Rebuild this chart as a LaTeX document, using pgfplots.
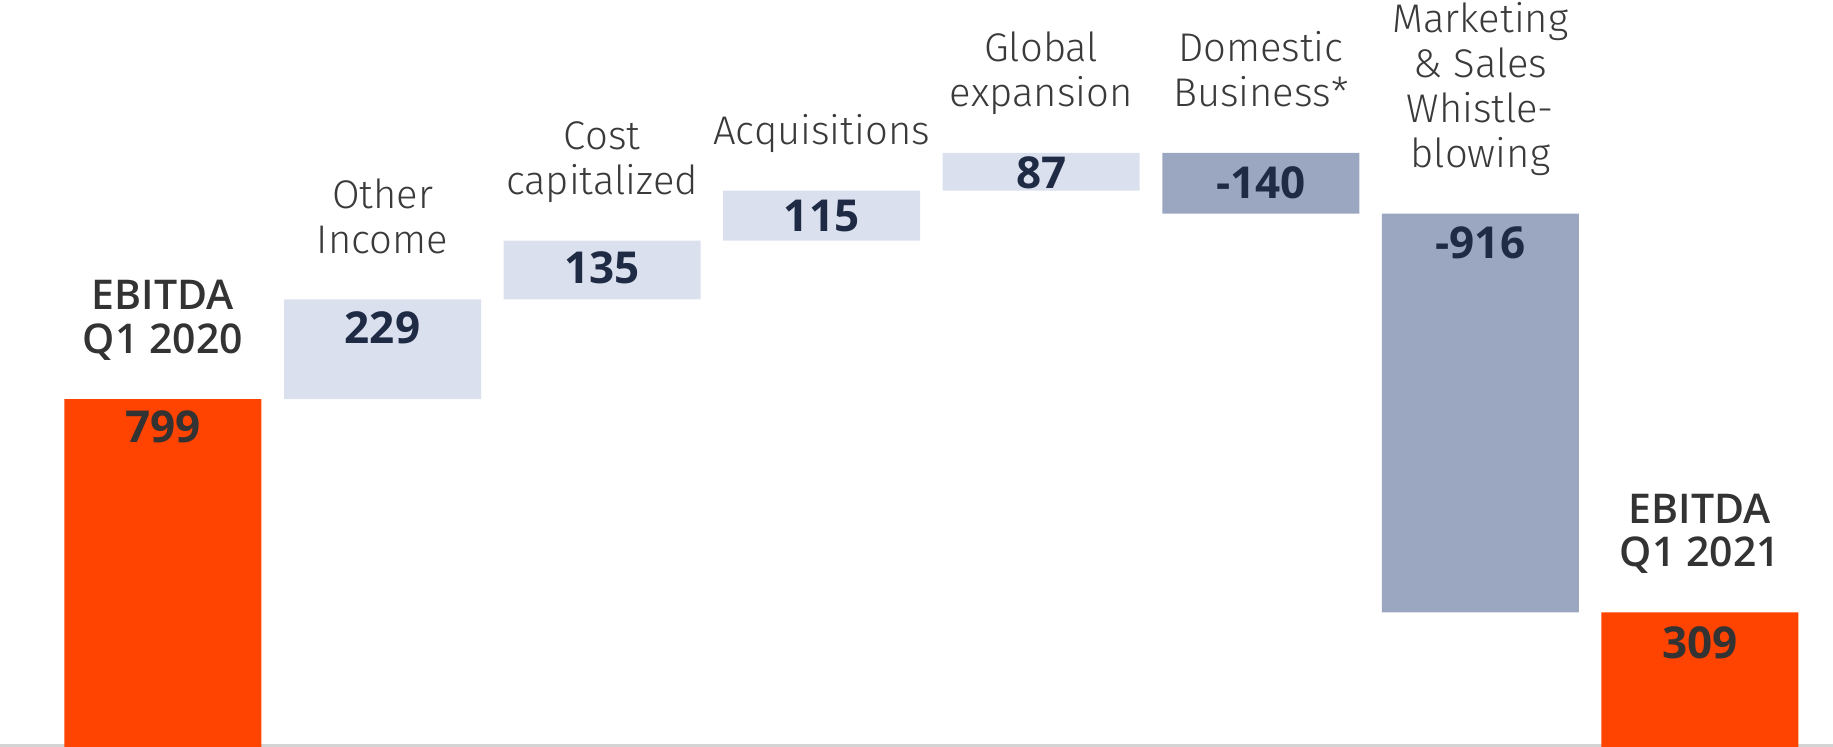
\documentclass[border=0pt]{standalone}
\usepackage{fontspec}
\setmainfont{Open Sans}
\newfontfamily\lightfont{Fira Sans Light}
\newfontfamily\semifont{Open Sans Semibold}
\usepackage{pgfplots}
\pgfplotsset{compat=1.18}
\definecolor{orangeBar}{HTML}{FF4300}
\definecolor{lightBar}{HTML}{DAE0EE}
\definecolor{darkBar}{HTML}{9BA6C0}
\definecolor{navyText}{HTML}{1F2A44}
\definecolor{grayText}{HTML}{333333}
\definecolor{catText}{HTML}{3A3A3A}
\definecolor{baseLine}{HTML}{D4D4D4}
\begin{document}
\begin{tikzpicture}
\begin{axis}[
  width=916.5pt, height=373.5pt, scale only axis,
  xmin=-0.742, xmax=7.606, ymin=0, ymax=1716,
  axis x line*=bottom, axis y line=none,
  x axis line style={draw=baseLine, line width=2.5pt},
  xtick=\empty, ytick=\empty,
  ybar stacked, bar width=98.5pt,
  clip=false,
]
% invisible base of each floating bar
\addplot[draw=none, fill=none] coordinates {
  (0,0) (1,799) (2,1028) (3,1163) (4,1278) (5,1225) (6,309) (7,0)};
% EBITDA totals
\addplot[draw=none, fill=orangeBar] coordinates {
  (0,799) (1,0) (2,0) (3,0) (4,0) (5,0) (6,0) (7,309)};
% increases
\addplot[draw=none, fill=lightBar] coordinates {
  (0,0) (1,229) (2,135) (3,115) (4,87) (5,0) (6,0) (7,0)};
% decreases
\addplot[draw=none, fill=darkBar] coordinates {
  (0,0) (1,0) (2,0) (3,0) (4,0) (5,140) (6,916) (7,0)};

\tikzset{cat/.style={anchor=south, align=center, inner sep=0pt, text=catText,
    font=\lightfont\fontsize{20}{22.5}\selectfont, yshift=16.25pt},
  tot/.style={anchor=south, align=center, inner sep=0pt, text=grayText,
    font=\semifont\fontsize{20.5}{21.7}\selectfont, yshift=16.3pt}}
% value label positions (centre of each number)
\coordinate (v0) at (axis cs:0,736);
\coordinate (v1) at (axis cs:1,962);
\coordinate (v2) at (axis cs:2,1100);
\coordinate (v3) at (axis cs:3,1220);
\coordinate (v4) at (axis cs:4,1319);
\coordinate (v5) at (axis cs:5,1295);
\coordinate (v6) at (axis cs:6,1159);
\coordinate (v7) at (axis cs:7,240);
% category labels
\node[tot] at (axis cs:0,799) {EBITDA\\Q1 2020\strut};
\node[cat] at (axis cs:1,1028) {Other\\Income\strut};
\node[cat] at (axis cs:2,1163) {Cost\\capitalized\strut};
\node[cat] at (axis cs:3,1278) {Acquisitions\strut};
\node[cat] at (axis cs:4,1365) {Global\\expansion\strut};
\node[cat] at (axis cs:5,1365) {Domestic\\Business*\strut};
\node[cat] at (axis cs:6,1225) {Marketing\\\& Sales\\Whistle-\\blowing\strut};
\node[tot] at (axis cs:7,309) {EBITDA\\Q1 2021\strut};
\end{axis}
\tikzset{val/.style={anchor=center, inner sep=0pt, font=\fontsize{22}{22}\selectfont\bfseries}}
\node[val, text=grayText] at (v0) {799};
\node[val, text=navyText] at (v1) {229};
\node[val, text=navyText] at (v2) {135};
\node[val, text=navyText] at (v3) {115};
\node[val, text=navyText] at (v4) {87};
\node[val, text=navyText] at (v5) {-140};
\node[val, text=navyText] at (v6) {-916};
\node[val, text=grayText] at (v7) {309};
\pgfresetboundingbox
\path[use as bounding box] (current axis.south west) rectangle (current axis.north east);
\end{tikzpicture}
\end{document}
